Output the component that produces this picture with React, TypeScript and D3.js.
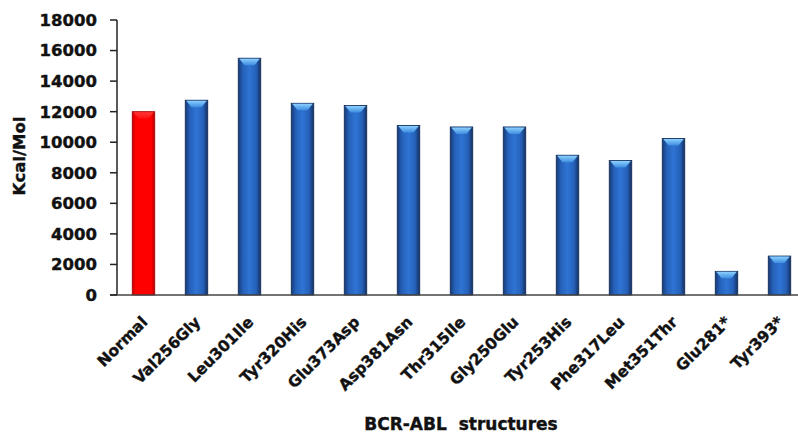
import React from "react";
import * as d3 from "d3";

const categories = [
  "Normal", "Val256Gly", "Leu301Ile", "Tyr320His", "Glu373Asp", "Asp381Asn",
  "Thr315Ile", "Gly250Glu", "Tyr253His", "Phe317Leu", "Met351Thr", "Glu281*", "Tyr393*",
];
const energies = [12000, 12750, 15500, 12550, 12400, 11100, 11000, 11000, 9150, 8800, 10250, 1550, 2550];
const yTicks = [0, 2000, 4000, 6000, 8000, 10000, 12000, 14000, 16000, 18000];

const W = 798;
const H = 435;
const x0 = 117;
const yTop = 20;
const yBase = 295;

export default function App() {
  const x = d3.scaleBand<string>().domain(categories).range([x0, x0 + 53 * 13]).paddingInner(0.575).paddingOuter(0.2875);
  const y = d3.scaleLinear().domain([0, 18000]).range([yBase, yTop]);
  const bw = x.bandwidth();
  const font = "'DejaVu Sans', Verdana, sans-serif";

  return (
    <svg width={W} height={H} style={{ position: "absolute", left: 0, top: 0 }} fontFamily={font}>
      <defs>
        <linearGradient id="blueG" x1="0" x2="1" y1="0" y2="0">
          <stop offset="0" stopColor="#173a75" />
          <stop offset="0.2" stopColor="#2560b8" />
          <stop offset="0.5" stopColor="#2f74d4" />
          <stop offset="0.8" stopColor="#2560b8" />
          <stop offset="1" stopColor="#142f5e" />
        </linearGradient>
        <linearGradient id="redG" x1="0" x2="1" y1="0" y2="0">
          <stop offset="0" stopColor="#c00000" />
          <stop offset="0.15" stopColor="#ff0000" />
          <stop offset="0.85" stopColor="#ff0000" />
          <stop offset="1" stopColor="#b00000" />
        </linearGradient>
        <linearGradient id="capB" x1="0" x2="0" y1="0" y2="1">
          <stop offset="0" stopColor="#8cd0ff" />
          <stop offset="1" stopColor="#3d8de0" />
        </linearGradient>
        <linearGradient id="capR" x1="0" x2="0" y1="0" y2="1">
          <stop offset="0" stopColor="#ff7070" />
          <stop offset="1" stopColor="#ff2020" />
        </linearGradient>
      </defs>
      <rect width={W} height={H} fill="#ffffff" />

      {/* bars */}
      {categories.map((c, i) => {
        const bx = x(c)!;
        const by = y(energies[i]);
        const h = yBase - by;
        const red = i === 0;
        const capH = Math.min(7, h * 0.4);
        return (
          <g key={c}>
            <rect x={bx} y={by} width={bw} height={h} fill={red ? "url(#redG)" : "url(#blueG)"} stroke={red ? "#a00000" : "#102a55"} strokeWidth={0.8} />
            <path
              d={`M${bx + 1},${by + 0.5} L${bx + bw - 1},${by + 0.5} L${bx + bw * 0.72},${by + capH} L${bx + bw * 0.28},${by + capH} Z`}
              fill={red ? "url(#capR)" : "url(#capB)"}
              opacity={red ? 0.5 : 1}
            />
          </g>
        );
      })}

      {/* axes */}
      <line x1={x0} x2={x0} y1={yTop} y2={yBase} stroke="#222" strokeWidth={1.5} />
      <line x1={x0 - 7} x2={W} y1={yBase} y2={yBase} stroke="#444" strokeWidth={1.5} />
      {yTicks.map((t) => (
        <g key={t}>
          <line x1={x0 - 7} x2={x0} y1={y(t)} y2={y(t)} stroke="#222" strokeWidth={1.5} />
          <text x={97} y={y(t)} dy="0.36em" textAnchor="end" fontSize={16.5} fontWeight="bold" fill="#111" stroke="#111" strokeWidth={0.4}>
            {t}
          </text>
        </g>
      ))}

      {/* category labels */}
      {categories.map((c) => {
        const cx = x(c)! + bw / 2 + 5;
        const cy = 323;
        return (
          <text key={c} x={cx} y={cy} transform={`rotate(-45 ${cx} ${cy})`} textAnchor="end" fontSize={15.5} fontWeight="bold" fill="#111" stroke="#111" strokeWidth={0.4}>
            {c}
          </text>
        );
      })}

      {/* axis titles */}
      <text transform={`translate(25 156) rotate(-90)`} textAnchor="middle" fontSize={16.5} fontWeight="bold" fill="#111" stroke="#111" strokeWidth={0.4}>
        Kcal/Mol
      </text>
      <text x={461} y={430} textAnchor="middle" fontSize={17} fontWeight="bold" fill="#111" stroke="#111" strokeWidth={0.4} style={{ whiteSpace: "pre" }}>
        {"BCR-ABL  structures"}
      </text>
    </svg>
  );
}
